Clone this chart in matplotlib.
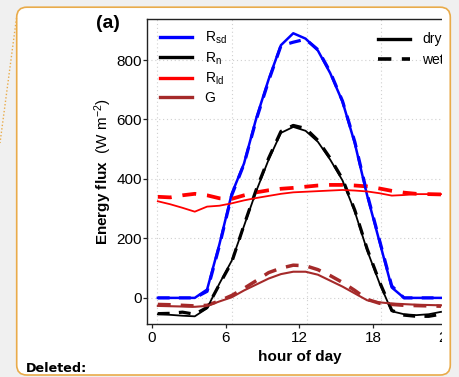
import matplotlib
matplotlib.use("Agg")
import matplotlib.pyplot as plt
from matplotlib.patches import FancyBboxPatch, Rectangle
from matplotlib.lines import Line2D

plt.rcParams['font.family'] = ['Liberation Sans', 'DejaVu Sans']
plt.rcParams['mathtext.fontset'] = 'custom'
plt.rcParams['mathtext.rm'] = 'Liberation Sans'
plt.rcParams['mathtext.it'] = 'Liberation Sans:italic'
plt.rcParams['mathtext.bf'] = 'Liberation Sans:bold'

# ---- data ----
hours = [0.5, 1.5, 2.5, 3.5, 4.5, 5.5, 6.5, 7.5, 8.5, 9.5, 10.5, 11.5,
         12.5, 13.5, 14.5, 15.5, 16.5, 17.5, 18.5, 19.5, 20.5, 21.5, 22.5, 23.5]

rsd_dry = [0, 0, 0, 0, 28, 180, 350, 452, 605, 735, 850, 890,
           872, 832, 756, 660, 520, 345, 190, 35, 0, 0, 0, 0]
rsd_wet = [0, 0, 0, 0, 22, 175, 345, 450, 600, 730, 848, 860,
           870, 835, 760, 662, 525, 350, 195, 40, 0, 0, 0, 0]

rn_dry = [-55, -57, -60, -62, -35, 48, 125, 242, 360, 465, 555, 575,
          562, 525, 465, 395, 290, 160, 50, -45, -55, -58, -55, -47]
rn_wet = [-53, -52, -48, -55, -32, 45, 120, 245, 365, 470, 560, 580,
          570, 530, 470, 400, 295, 165, 55, -42, -58, -62, -62, -55]

rld_dry = [325, 315, 303, 290, 307, 310, 318, 328, 336, 343, 350, 355,
           357, 359, 361, 363, 361, 358, 352, 344, 346, 349, 349, 349]
rld_wet = [340, 338, 345, 350, 345, 335, 333, 345, 355, 362, 367, 370,
           374, 378, 380, 380, 378, 375, 368, 360, 354, 350, 349, 348]

g_dry = [-27, -28, -29, -30, -27, -12, 2, 25, 45, 65, 80, 88,
         88, 78, 58, 38, 15, -8, -15, -19, -21, -23, -24, -25]
g_wet = [-22, -23, -25, -27, -25, -10, 8, 32, 58, 85, 100, 110,
         108, 95, 75, 52, 25, -5, -18, -22, -25, -26, -27, -28]

xticks = [0, 6, 12, 18, 24]
yticks = [0, 200, 400, 600, 800]
vgrid = [0.45, 6.52, 12.59, 18.66, 24.73]

series_labels = [r"R$_{\rm sd}$", r"R$_{\rm n}$", r"R$_{\rm ld}$", "G"]
series_colors = ["#0000FF", "#000000", "#FF0000", "#A52A2A"]
case_labels = ["dry", "wet"]

# ---- figure ----
W, H = 459, 377
fig = plt.figure(figsize=(W / 100, H / 100), dpi=100)
fig.patch.set_facecolor("#f0f0f0")

def fx(px):
    return px / W

def fy(py):
    return 1 - py / H

box_x0, box_x1, box_y0, box_y1 = 16.7, 450.3, 7.2, 375
# white interior of the comment box
fig.patches.append(FancyBboxPatch((fx(box_x0), fy(box_y1)), fx(box_x1 - box_x0),
                                  (box_y1 - box_y0) / H,
                                  boxstyle="round,pad=0,rounding_size=0.022",
                                  transform=fig.transFigure, facecolor="white",
                                  edgecolor="none", zorder=-5, mutation_aspect=W / H))

ax_left, ax_right, ax_top, ax_bot = 147, 453.3, 19.3, 324.2
ax = fig.add_axes([fx(ax_left), fy(ax_bot), fx(ax_right - ax_left), (ax_bot - ax_top) / H])
ax.set_facecolor("white")

ax.set_xlim(-0.38, 24.5)
ax.set_ylim(-88.5, 937)

for v in yticks:
    ax.axhline(v, color="#d0d0d0", lw=0.8, ls=(0, (1, 2.5)), zorder=0)
for v in vgrid:
    ax.axvline(v, color="#d0d0d0", lw=0.8, ls=(0, (1, 2.5)), zorder=0)

dry_sets = [rsd_dry, rn_dry, rld_dry, g_dry]
wet_sets = [rsd_wet, rn_wet, rld_wet, g_wet]
solid_lw = [1.8, 1.3, 1.3, 1.5]
dash_lw = [2.3, 2.3, 2.7, 2.5]
for d, w, c, lw, dlw in zip(dry_sets, wet_sets, series_colors, solid_lw, dash_lw):
    ax.plot(hours, w, color=c, lw=dlw, ls=(0, (3.7, 2.9)), zorder=2)
    ax.plot(hours, d, color=c, lw=lw, zorder=3)

ax.set_xticks(xticks)
ax.set_yticks(yticks)
ax.tick_params(axis="both", labelsize=11, direction="out", length=3.2,
               width=0.9, color="#222222")
ax.tick_params(axis="y", pad=0.5)
ax.tick_params(axis="x", pad=2.0)
for s in ["left", "bottom", "top"]:
    ax.spines[s].set_linewidth(1.0)
    ax.spines[s].set_color("#222222")
ax.spines["right"].set_visible(False)

ax.set_xlabel("hour of day", fontsize=11, fontweight="bold", labelpad=3)
ax.set_ylabel(r"$\mathbf{Energy\ flux}$  (W m$^{-2}$)", fontsize=11, labelpad=1.5)

h1 = [Line2D([], [], color=c, lw=2.4) for c in series_colors]
leg1 = ax.legend(h1, series_labels, loc="upper left", bbox_to_anchor=(0.025, 0.983),
                 frameon=False, fontsize=10, handlelength=2.3, handletextpad=0.9,
                 labelspacing=0.28, borderaxespad=0.0)
ax.add_artist(leg1)
h2 = [Line2D([], [], color="black", lw=2.4),
      Line2D([], [], color="black", lw=2.6, ls=(0, (3.7, 2.9)))]
ax.legend(h2, case_labels, loc="upper left", bbox_to_anchor=(0.735, 0.975),
          frameon=False, fontsize=10, handlelength=2.3, handletextpad=0.9,
          labelspacing=0.45, borderaxespad=0.0)

fig.text(fx(108), fy(23), "(a)", fontsize=14, fontweight="bold",
         ha="center", va="center")

# clip the right part of the chart (document crop)
fig.patches.append(Rectangle((fx(441.8), fy(365)), fx(449.5 - 441.8), (365 - 15) / H,
                             transform=fig.transFigure, facecolor="white",
                             edgecolor="none", zorder=10))
fig.patches.append(Rectangle((fx(451), 0), fx(W - 451), 1,
                             transform=fig.transFigure, facecolor="#f0f0f0",
                             edgecolor="none", zorder=10))
border = FancyBboxPatch((fx(box_x0), fy(box_y1)), fx(box_x1 - box_x0), (box_y1 - box_y0) / H,
                        boxstyle="round,pad=0,rounding_size=0.022",
                        transform=fig.transFigure, facecolor="none",
                        edgecolor="#e9ab4a", lw=1.2, zorder=11,
                        mutation_aspect=W / H)
fig.patches.append(border)
fig.lines.append(Line2D([fx(16.5), fx(0)], [fy(18), fy(143)], transform=fig.transFigure,
                        color="#e9ab4a", lw=1.0, ls=(0, (1, 1.5)), zorder=11))

fig.text(fx(26), fy(372.5), "Deleted:", fontsize=9.2, fontweight="bold",
         family="DejaVu Sans", ha="left", va="baseline", zorder=12)

fig.savefig("out.png", dpi=100, facecolor=fig.get_facecolor())
